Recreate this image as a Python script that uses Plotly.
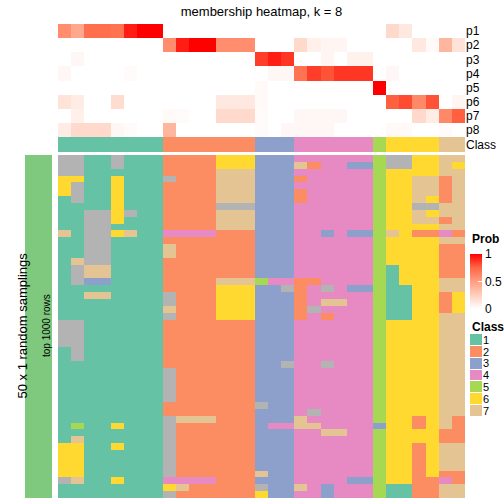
import plotly.graph_objects as go

# ---------------- data ----------------
prob_labels = ["p1", "p2", "p3", "p4", "p5", "p6", "p7", "p8"]
#            class1 (0-7)                         class2 (8-14)                       class3          class4 (18-23)                      c5    class6 (25-28)          class7
p1 = [0.58, 0.45, 0.72, 0.72, 0.70, 0.93, 1.0, 1.0, 0, 0, 0, 0, 0, 0, 0, 0, 0, 0, 0, 0, 0, 0, 0, 0, 0, 0.20, 0.12, 0, 0, 0, 0]
p2 = [0, 0, 0, 0, 0, 0, 0, 0, 0.58, 0.93, 1.0, 1.0, 0.58, 0.58, 0.58, 0, 0, 0, 0.20, 0.08, 0.05, 0.05, 0, 0, 0, 0, 0, 0.12, 0.03, 0.38, 0.15]
p3 = [0, 0.04, 0, 0, 0, 0, 0, 0, 0, 0, 0, 0, 0, 0, 0, 0.85, 0.93, 0.87, 0, 0, 0.05, 0, 0.07, 0.07, 0, 0, 0, 0, 0, 0, 0]
p4 = [0.04, 0, 0, 0, 0, 0.02, 0, 0, 0, 0, 0, 0, 0, 0, 0, 0, 0.04, 0.04, 0.70, 0.85, 0.80, 0.87, 0.87, 0.87, 0, 0.04, 0, 0, 0, 0, 0]
p5 = [0, 0, 0, 0, 0, 0, 0, 0, 0, 0, 0, 0, 0, 0, 0, 0.03, 0, 0, 0, 0, 0, 0, 0, 0, 1.0, 0, 0, 0, 0, 0, 0]
p6 = [0.15, 0.10, 0, 0, 0.18, 0, 0, 0, 0, 0, 0, 0, 0.12, 0.12, 0.12, 0.03, 0, 0, 0, 0, 0, 0, 0, 0, 0, 0.77, 0.82, 0.60, 0.80, 0, 0.05]
p7 = [0, 0.08, 0, 0, 0, 0, 0, 0, 0.03, 0.02, 0, 0, 0.20, 0.20, 0.20, 0.02, 0, 0, 0.04, 0.04, 0.04, 0.04, 0, 0, 0, 0, 0, 0.20, 0.10, 0.60, 0.77]
p8 = [0.10, 0.20, 0.20, 0.20, 0.04, 0.02, 0, 0, 0.38, 0, 0, 0, 0, 0, 0, 0.02, 0, 0.04, 0.04, 0.04, 0.04, 0, 0, 0, 0, 0.03, 0.03, 0, 0, 0.02, 0]

column_class = [1] * 8 + [2] * 7 + [3] * 3 + [4] * 6 + [5] + [6] * 4 + [7] * 2

# class of each column in each of the 50 samplings (0 = unassigned / grey)
sampling_rows = [
    "00110111|2222666|333|444444|5|0066|77",
    "00110111|2222666|333|724433|5|0066|76",
    "00111111|2222777|333|444444|5|6666|77",
    "66116111|0222777|333|244444|5|6677|27",
    "60116111|2222777|333|444444|5|6677|27",
    "60116111|2222777|333|244444|5|6677|27",
    "10116111|2222777|333|244444|5|6676|27",
    "11116111|2222000|333|444444|5|6600|77",
    "11006011|2222777|333|444444|5|6676|77",
    "11006111|2222777|333|444444|5|6677|27",
    "11001111|2222777|333|444444|5|6666|77",
    "71006711|4444222|333|443433|5|7622|42",
    "11001111|2222222|333|444444|5|6666|77",
    "11001111|7222222|333|444444|5|6666|22",
    "11001111|7222222|333|444444|5|6666|22",
    "17001111|2222222|333|444444|5|6666|22",
    "10771111|2222222|333|444444|5|1666|22",
    "10771111|2222222|333|444444|5|1666|22",
    "10331111|2222777|544|224444|5|1666|77",
    "11111111|2222666|330|240433|5|1166|77",
    "11771111|0222666|333|244444|5|1166|26",
    "11111111|0222666|333|247744|5|1166|26",
    "11111111|7222666|333|204444|5|1166|26",
    "11111111|0222666|333|242444|5|1166|77",
    "00111111|2222222|333|444444|5|6666|77",
    "00111111|2222222|333|444444|5|6666|77",
    "00111111|2222222|333|444444|5|6666|77",
    "00111111|2222222|333|444444|5|6666|77",
    "10111111|2222222|333|444444|5|6666|77",
    "10111111|2222222|333|444444|5|6666|77",
    "11111111|2222222|330|440444|5|6666|77",
    "11111111|0222222|333|444444|5|6666|77",
    "11111111|0222222|333|444444|5|6666|77",
    "11111111|0222222|333|444444|5|6666|77",
    "11111111|0222222|333|444444|5|6666|77",
    "11111111|0222222|333|444444|5|6666|77",
    "11111111|2222222|033|444444|5|6666|77",
    "11111111|2222222|333|404444|5|6666|77",
    "11111111|0777222|333|744444|5|6626|72",
    "15116111|0222222|344|774444|3|6626|72",
    "11111111|0222222|333|447744|5|6666|22",
    "17111111|0222222|333|444444|5|6666|22",
    "66116111|0222222|333|444444|5|6626|77",
    "66111111|0222222|333|444444|5|6626|77",
    "66111111|0222222|333|444444|5|6626|77",
    "66111111|0222222|333|444444|5|6626|77",
    "66111111|0222222|733|444444|5|6626|22",
    "07116111|4444222|333|444433|5|6622|42",
    "11111111|6722222|033|743444|5|1122|77",
    "11111111|0222222|633|443444|5|1122|77",
]

class_labels = ["1", "2", "3", "4", "5", "6", "7"]
class_colors = ["#66C2A5", "#FC8D62", "#8DA0CB", "#E78AC3", "#A6D854", "#FFD92F", "#E5C494"]
unassigned_color = "#B3B3B3"
side_bar_color = "#7FC97F"

title_text = "membership heatmap, k = 8"
left_label = "50 x 1 random samplings"
bar_label = "top 1000 rows"

# ---------------- figure ----------------
W = H = 504
FONT = "Liberation Sans, Arial, sans-serif"


def dom_x(a, b):
    return [a / W, b / W]


def dom_y(top, bottom):
    return [1 - bottom / H, 1 - top / H]


ncol = len(column_class)
cols = list(range(ncol))
prob = [p1, p2, p3, p4, p5, p6, p7, p8]
main_z = [[int(ch) for ch in r.replace("|", "")] for r in sampling_rows]
nrow = len(main_z)

code_colors = [unassigned_color] + class_colors
dscale = []
for i, c in enumerate(code_colors):
    dscale.append([i / len(code_colors), c])
    dscale.append([(i + 1) / len(code_colors), c])

# white -> red interpolated in LAB space
prob_scale = [
    [0.0, "rgb(255,255,255)"],
    [0.25, "rgb(255,207,190)"],
    [0.5, "rgb(255,158,129)"],
    [0.75, "rgb(255,104,70)"],
    [1.0, "rgb(255,0,0)"],
]

fig = go.Figure()

fig.add_trace(go.Heatmap(
    z=prob, x=cols, y=prob_labels, colorscale=prob_scale, zmin=0, zmax=1,
    xaxis="x2", yaxis="y2", hoverinfo="skip",
    colorbar=dict(
        x=470 / W, xanchor="left", y=1 - 309 / H, yanchor="bottom",
        lenmode="pixels", len=55, thickness=12, thicknessmode="pixels",
        xpad=0, ypad=0, outlinewidth=0,
        tickvals=[0, 0.5, 1], ticktext=["0", "0.5", "1"],
        ticks="inside", ticklen=4, tickcolor="white",
        tickfont=dict(size=12, family=FONT, color="black"),
    ),
))

fig.add_trace(go.Heatmap(
    z=[column_class], x=cols, y=["Class"], colorscale=dscale, zmin=-0.5, zmax=7.5,
    showscale=False, xaxis="x3", yaxis="y3", hoverinfo="skip",
))

fig.add_trace(go.Heatmap(
    z=main_z, x=cols, y=list(range(nrow)), colorscale=dscale, zmin=-0.5, zmax=7.5,
    showscale=False, xaxis="x", yaxis="y", hoverinfo="skip",
))

fig.add_trace(go.Heatmap(
    z=[[1]], x=[0], y=[0], colorscale=[[0, side_bar_color], [1, side_bar_color]],
    showscale=False, xaxis="x4", yaxis="y4", hoverinfo="skip",
))

fig.add_trace(go.Heatmap(
    z=[[int(c)] for c in class_labels], x=[0], y=class_labels, colorscale=dscale,
    zmin=-0.5, zmax=7.5, ygap=1, showscale=False, xaxis="x5", yaxis="y5", hoverinfo="skip",
))

hidden = dict(showgrid=False, zeroline=False, showticklabels=False, ticks="", showline=False,
              automargin=False)
heat_x = dom_x(58, 465)
right_axis = dict(showgrid=False, zeroline=False, ticks="", showticklabels=True, side="right",
                  automargin=False)

fig.update_layout(
    width=W, height=H, margin=dict(l=0, r=0, t=0, b=0, autoexpand=False),
    paper_bgcolor="white", plot_bgcolor="white",
    font=dict(family=FONT, size=12, color="black"),
    xaxis=dict(domain=heat_x, range=[-0.5, ncol - 0.5], **hidden),
    yaxis=dict(domain=dom_y(155, 498), range=[nrow - 0.5, -0.5], **hidden),
    xaxis2=dict(domain=heat_x, range=[-0.5, ncol - 0.5], anchor="y2", **hidden),
    yaxis2=dict(domain=dom_y(24, 137), anchor="x2", autorange="reversed",
                tickmode="array", tickvals=prob_labels,
                tickfont=dict(size=12, family=FONT, color="black"), **right_axis),
    xaxis3=dict(domain=heat_x, range=[-0.5, ncol - 0.5], anchor="y3", **hidden),
    yaxis3=dict(domain=dom_y(137, 152), anchor="x3",
                tickfont=dict(size=12, family=FONT, color="black"), **right_axis),
    xaxis4=dict(domain=dom_x(25, 52), anchor="y4", **hidden),
    yaxis4=dict(domain=dom_y(155, 498), anchor="x4", **hidden),
    xaxis5=dict(domain=dom_x(470, 482), anchor="y5", **hidden),
    yaxis5=dict(domain=dom_y(334, 417), anchor="x5", autorange="reversed",
                tickmode="array", tickvals=class_labels,
                tickfont=dict(size=11, family=FONT, color="black"), **right_axis),
    title=dict(text=title_text, x=261.5 / W, xanchor="center", y=1 - 11 / H, yanchor="middle",
               font=dict(size=13, family=FONT, color="black")),
    annotations=[
        dict(text=left_label, textangle=-90, x=12 / W, y=1 - 326 / H, xref="paper", yref="paper",
             showarrow=False, font=dict(size=13, family=FONT, color="black")),
        dict(text=bar_label, textangle=-90, x=38.5 / W, y=1 - 326 / H, xref="paper", yref="paper",
             showarrow=False, font=dict(size=10, family=FONT, color="black")),
        dict(text="<b>Prob</b>", x=470 / W, y=1 - 239 / H, xref="paper", yref="paper",
             xanchor="left", yanchor="middle", showarrow=False,
             font=dict(size=12, family=FONT, color="black")),
        dict(text="<b>Class</b>", x=470 / W, y=1 - 327 / H, xref="paper", yref="paper",
             xanchor="left", yanchor="middle", showarrow=False,
             font=dict(size=12, family=FONT, color="black")),
    ],
)

fig.write_html("out.html", config={"displayModeBar": False},
               post_script="document.body.style.margin='0';document.body.style.overflow='hidden';")
